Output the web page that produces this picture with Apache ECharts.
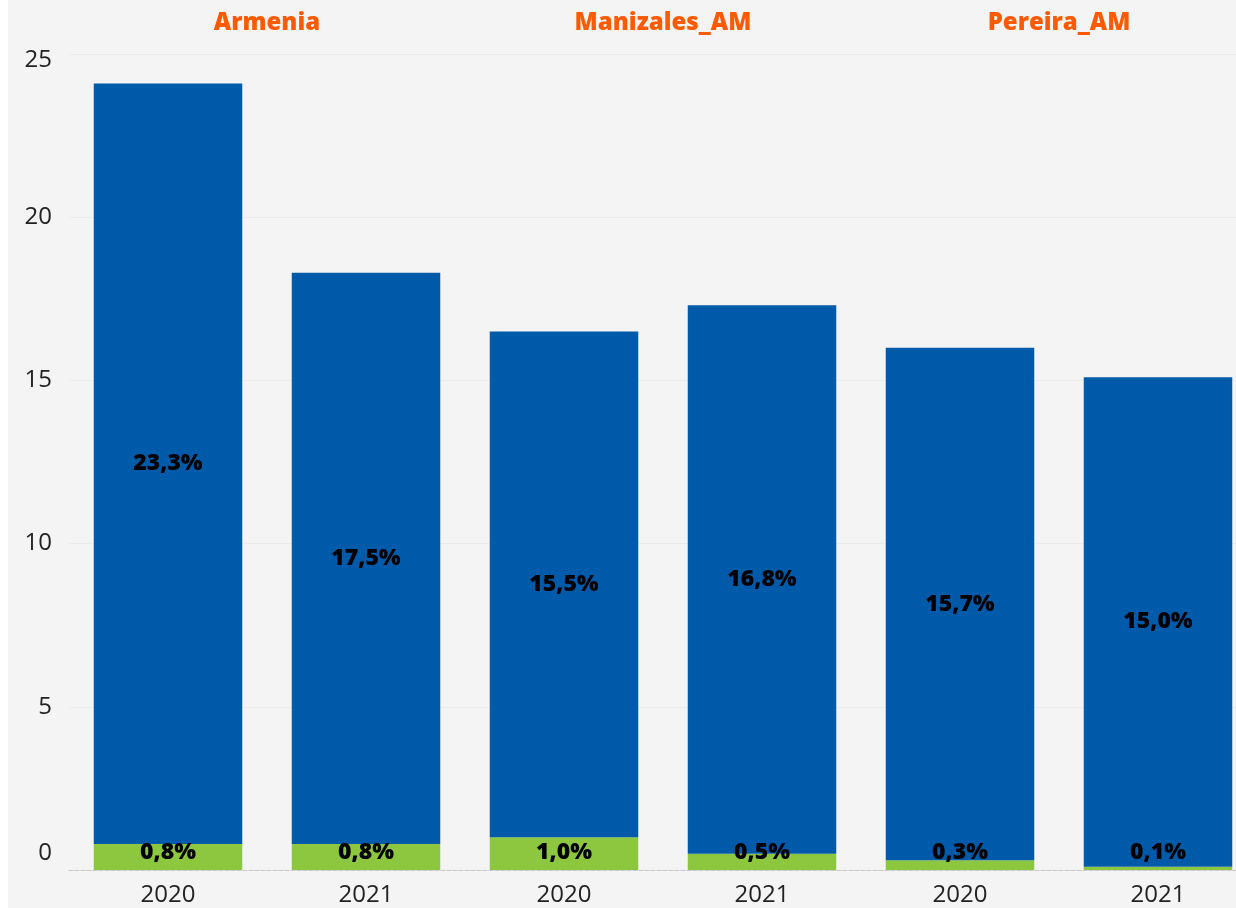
<!DOCTYPE html>
<html>
<head>
<meta charset="utf-8">
<script src="https://cdn.jsdelivr.net/npm/echarts@6/dist/echarts.min.js"></script>
<style>
  html, body { margin: 0; padding: 0; background: #fff; overflow: hidden; }
  #chart { position: absolute; left: 8px; top: 0; width: 1260px; height: 908px; background: #f4f4f4; }
</style>
</head>
<body>
<div id="chart"></div>
<script>
const cities = ['Armenia', 'Manizales_AM', 'Pereira_AM']
const years = ['2020', '2021', '2020', '2021', '2020', '2021']
const lowValues = [0.8, 0.8, 1.0, 0.5, 0.3, 0.1]
const highValues = [23.3, 17.5, 15.5, 16.8, 15.7, 15.0]

const fmt = p => p.value.toFixed(1).replace('.', ',') + '%'
const font = '"Open Sans", "Noto Sans", sans-serif'

const chart = echarts.init(document.getElementById('chart'))
chart.setOption({
  backgroundColor: '#f4f4f4',
  textStyle: { fontFamily: font },
  grid: { left: 61, width: 1188, top: 54, bottom: 38, containLabel: false },
  xAxis: [
    {
      type: 'category',
      data: years,
      position: 'bottom',
      axisLine: { show: true, lineStyle: { color: '#c8c8c8', type: 'dashed' } },
      axisTick: { show: false },
      axisLabel: { color: '#222', fontSize: 24, margin: 13, fontFamily: font }
    },
    {
      type: 'category',
      data: cities,
      position: 'top',
      axisLine: { show: false },
      axisTick: { show: false },
      axisLabel: { color: '#ff5a00', fontSize: 24, fontWeight: 800, margin: 19, fontFamily: font }
    }
  ],
  yAxis: {
    type: 'value',
    min: 0,
    max: 25,
    interval: 5,
    axisLine: { show: false },
    axisTick: { show: false },
    splitLine: { lineStyle: { color: '#ebebeb' } },
    axisLabel: {
      color: '#222',
      fontSize: 24,
      margin: 17,
      fontFamily: font,
      // reference keeps the end labels inside the plot
      formatter: v => v === 0 ? '{lo|0}' : v === 25 ? '{hi|25}' : String(v),
      rich: {
        lo: { fontSize: 24, color: '#222', fontFamily: font, padding: [0, 0, 33, 0] },
        hi: { fontSize: 24, color: '#222', fontFamily: font, padding: [13, 0, 0, 0] }
      }
    }
  },
  series: [
    {
      name: 'low',
      type: 'bar',
      stack: 'total',
      data: lowValues,
      barCategoryGap: '25%',
      itemStyle: { color: '#8dc63f' },
      label: {
        show: true,
        position: 'insideBottom',
        distance: 6,
        formatter: fmt,
        color: '#000',
        fontSize: 23,
        fontWeight: 800,
        fontFamily: font
      }
    },
    {
      name: 'high',
      type: 'bar',
      stack: 'total',
      data: highValues,
      itemStyle: { color: '#005aaa' },
      label: {
        show: true,
        position: 'inside',
        formatter: fmt,
        color: '#000',
        fontSize: 23,
        fontWeight: 800,
        fontFamily: font
      }
    }
  ]
})
</script>
</body>
</html>
